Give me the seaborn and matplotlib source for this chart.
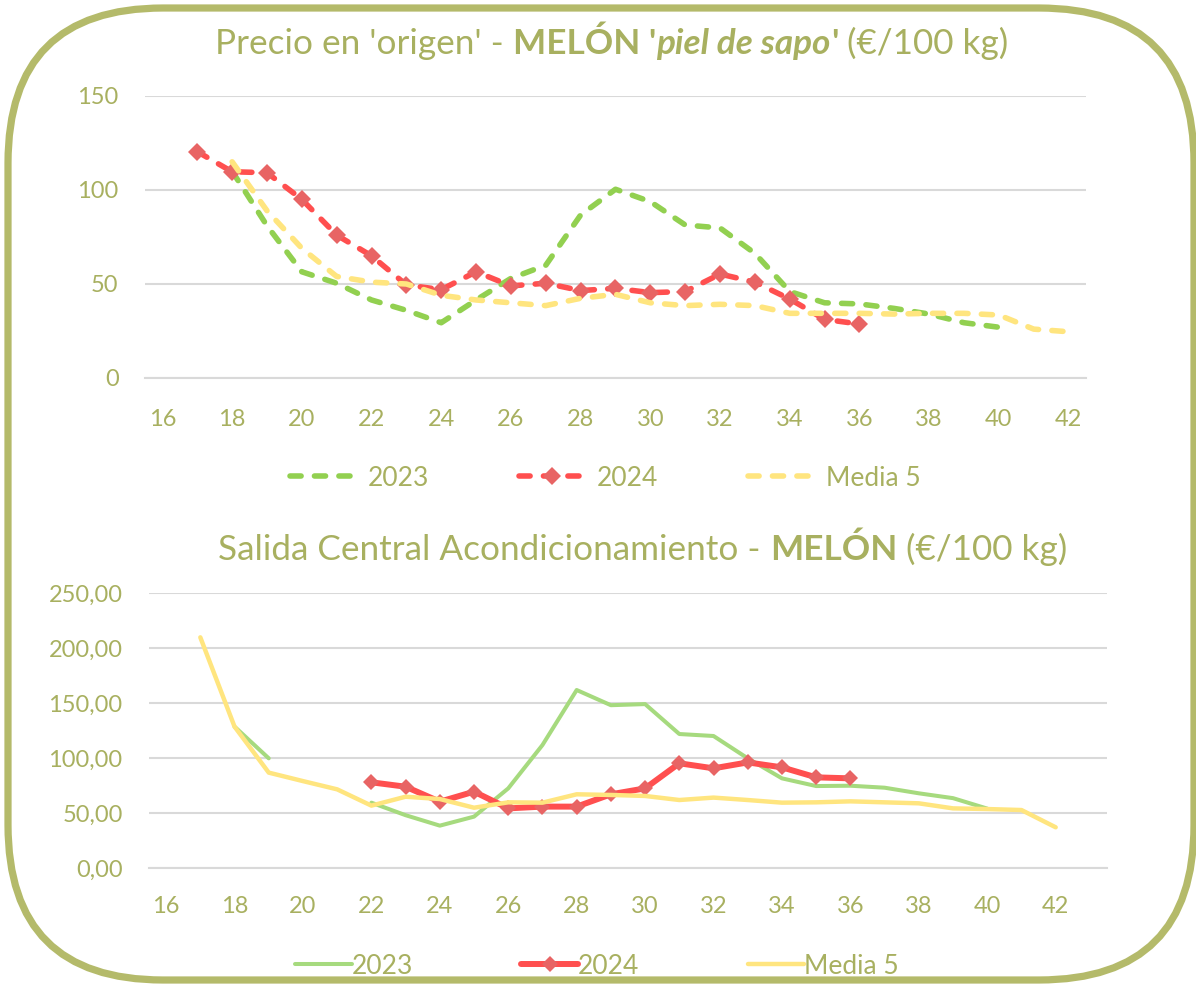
import matplotlib
matplotlib.use("Agg")
import matplotlib.pyplot as plt
import numpy as np
import pandas as pd
import seaborn as sns
from matplotlib.lines import Line2D
from matplotlib.patches import FancyBboxPatch
from matplotlib.transforms import IdentityTransform
from matplotlib.ticker import FuncFormatter

# --- data ---
weeks_top = list(range(16, 43))
top_2023 = [np.nan, np.nan, 110, 81, 56.5, 50.4, 41.5, 36, 29.4, 41.5, 53, 60, 86.7, 100.4,
            93.8, 81.4, 79.8, 66.3, 46, 40, 39.4, 37, 34, 29.4, 27, np.nan, np.nan]
top_2024 = [np.nan, 120.4, 109.7, 109.2, 95, 76, 65, 49.5, 47, 56.5, 49, 50.4, 46.5, 47.7,
            45.4, 46, 55.3, 51, 42, 31.2, 28.7, np.nan, np.nan, np.nan, np.nan, np.nan, np.nan]
top_media = [np.nan, np.nan, 115, 89, 69, 54, 51, 50, 44, 41.5, 40, 38.5, 42.4, 44.5,
             40, 38.5, 39.2, 38.5, 34.4, 34.4, 34.4, 34, 34.4, 34.4, 33.5, 26, 24.6]

weeks_bot = list(range(16, 44))
bot_2023 = [np.nan, np.nan, 128.5, 99.7, np.nan, np.nan, 59.4, 48, 38.5, 46.7, 72.4, 111.8, 161.8, 148,
            149, 121.8, 120, 99.7, 81.5, 74.5, 74.8, 73, 67.9, 63.5, 54, np.nan, np.nan, np.nan]
bot_2024 = [np.nan, np.nan, np.nan, np.nan, np.nan, np.nan, 77.9, 73.9, 60.3, 69.4, 54.2, 55.8, 55.8, 67,
            72.4, 95.2, 90.6, 96, 91.5, 82.4, 81.5, np.nan, np.nan, np.nan, np.nan, np.nan, np.nan, np.nan]
bot_media = [np.nan, 209.7, 128.5, 86.7, 79, 71.5, 56.7, 64.8, 62.7, 54.8, 59.7, 59.4, 67, 66.4,
             65.5, 61.8, 64, 61.8, 59.4, 59.7, 60.6, 59.7, 58.8, 54.2, 53.6, 52.7, 37, np.nan]

labels = ["2023", "2024", "Media 5"]

TXT = "#A8B060"
FRAME = "#B4BA6A"
GRID = "#D9D9D9"
GREEN = "#92D050"
GREEN2 = "#A6DA7E"
RED = "#FF4F4F"
REDM = "#E86464"
YELLOW = "#FFE57F"

W, H = 1196, 985

sns.set_style("white")
plt.rcParams["font.family"] = ["Lato", "DejaVu Sans"]

fig = plt.figure(figsize=(W / 100, H / 100), dpi=100)


def frame(series, weeks):
    d = pd.DataFrame({"week": weeks, "val": series})
    d["seg"] = d["val"].isna().cumsum()
    return d.dropna()


def px_axes(left, top, right, bottom):
    return fig.add_axes([left / W, 1 - bottom / H, (right - left) / W, (bottom - top) / H])


def style_axes(ax, nweeks_last, ymax, ystep, ypad, xpad):
    ax.set_xlim(15.5, nweeks_last + 0.5)
    ax.set_ylim(0, ymax)
    ax.set_yticks(np.arange(0, ymax + 1, ystep))
    ax.set_xticks(range(16, 43, 2))
    ax.set_xticks(np.arange(15.5, nweeks_last + 1, 1), minor=True)
    ax.tick_params(axis="x", which="major", length=0, pad=xpad, labelsize=17, labelcolor=TXT)
    ax.tick_params(axis="x", which="minor", length=9, width=1.5, color=GRID)
    ax.tick_params(axis="y", length=0, pad=ypad, labelsize=17, labelcolor=TXT)
    ax.grid(axis="y", color=GRID, lw=1.5)
    ax.set_axisbelow(True)
    for s in ["top", "left", "right"]:
        ax.spines[s].set_visible(False)
    ax.spines["bottom"].set_color(GRID)
    ax.spines["bottom"].set_linewidth(1.5)
    ax.set_xlabel("")
    ax.set_ylabel("")


def title_parts(parts, xc, yb, size):
    texts = [fig.text(0, 1 - yb / H, s, fontsize=size, fontweight=w, fontstyle=st,
                      color=TXT, ha="left", va="baseline") for s, w, st in parts]
    r = fig.canvas.get_renderer()
    widths = [t.get_window_extent(r).width for t in texts]
    x = xc - sum(widths) / 2
    for t, wd in zip(texts, widths):
        t.set_x(x / W)
        x += wd


dash = (0, (2.0, 2.4))
LWD = 4.0

# --- top chart ---
ax1 = px_axes(145, 96, 1086, 378)
sns.lineplot(data=frame(top_2023, weeks_top), x="week", y="val", units="seg", estimator=None,
             ax=ax1, color=GREEN, lw=LWD, linestyle=dash, dash_capstyle="round")
sns.lineplot(data=frame(top_2024, weeks_top), x="week", y="val", units="seg", estimator=None,
             ax=ax1, color=RED, lw=LWD, linestyle=dash, dash_capstyle="round",
             marker="D", ms=9, mfc=REDM, mec=REDM, mew=0)
sns.lineplot(data=frame(top_media, weeks_top), x="week", y="val", units="seg", estimator=None,
             ax=ax1, color=YELLOW, lw=LWD, linestyle=dash, dash_capstyle="round")
style_axes(ax1, 42, 150, 50, 19, 22)

# --- bottom chart ---
ax2 = px_axes(149, 593, 1107, 868)
sns.lineplot(data=frame(bot_2023, weeks_bot), x="week", y="val", units="seg", estimator=None,
             ax=ax2, color=GREEN2, lw=2.9)
sns.lineplot(data=frame(bot_2024, weeks_bot), x="week", y="val", units="seg", estimator=None,
             ax=ax2, color=RED, lw=4.3, marker="D", ms=8.5, mfc=REDM, mec=REDM, mew=0)
sns.lineplot(data=frame(bot_media, weeks_bot), x="week", y="val", units="seg", estimator=None,
             ax=ax2, color=YELLOW, lw=3.2)
style_axes(ax2, 43, 250, 50, 19, 20)
ax2.yaxis.set_major_formatter(FuncFormatter(lambda v, p: f"{v:.2f}".replace(".", ",")))

# --- legends ---
h1 = [Line2D([], [], color=GREEN, lw=LWD, linestyle=dash, dash_capstyle="round"),
      Line2D([], [], color=RED, lw=LWD, linestyle=dash, dash_capstyle="round",
             marker="D", ms=9, mfc=REDM, mec=REDM, mew=0),
      Line2D([], [], color=YELLOW, lw=LWD, linestyle=dash, dash_capstyle="round")]
fig.legend(h1, labels, loc="center", bbox_to_anchor=(605 / W, 1 - 478 / H), ncol=3, frameon=False,
           fontsize=19, labelcolor=TXT, handlelength=2.5, handletextpad=0.45, columnspacing=3.4)

h2 = [Line2D([], [], color=GREEN2, lw=2.9),
      Line2D([], [], color=RED, lw=4.3, marker="D", ms=8.5, mfc=REDM, mec=REDM, mew=0),
      Line2D([], [], color=YELLOW, lw=3.2)]
fig.legend(h2, labels, loc="center", bbox_to_anchor=(597 / W, 1 - 966 / H), ncol=3, frameon=False,
           fontsize=19, labelcolor=TXT, handlelength=2.15, handletextpad=0.0, columnspacing=4.1)

# --- titles ---
title_parts([("Precio en 'origen' - ", "normal", "normal"),
             ("MELÓN '", "bold", "normal"),
             ("piel de sapo", "bold", "italic"),
             ("'", "bold", "normal"),
             (" (€/100 kg)", "normal", "normal")], 612, 54, 25.3)
title_parts([("Salida Central Acondicionamiento - ", "normal", "normal"),
             ("MELÓN", "bold", "normal"),
             (" (€/100 kg)", "normal", "normal")], 643, 560, 25.3)

# --- rounded frame ---
fig.add_artist(FancyBboxPatch((8, 5), 1186, 972, boxstyle="round,pad=0,rounding_size=155",
                              transform=IdentityTransform(), fill=False, lw=5.2, edgecolor=FRAME))

fig.savefig("out.png", dpi=100)
